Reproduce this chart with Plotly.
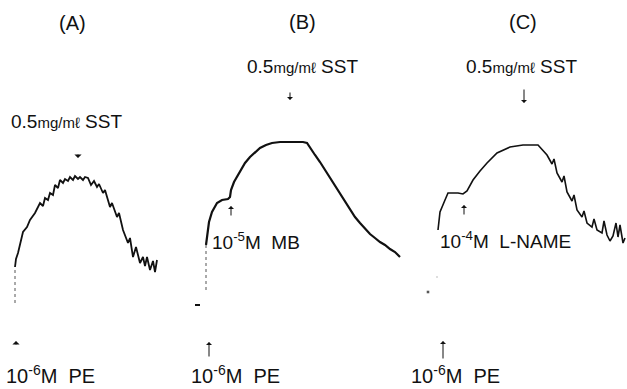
import plotly.graph_objects as go

# ---- Data: tension recordings (time in min from PE addition, tension in g) ----
# Panel A
pe_jump_time_a = [0.0, 0.0]
pe_jump_tension_a = [0.0, 0.36]
time_a = [0.0, 0.1, 0.3, 0.8, 1.2, 1.5, 2.0, 2.5, 2.8, 3.0, 3.3, 3.5, 3.8, 4.0, 4.3, 4.5, 4.8, 5.0, 5.3, 5.5,
          5.8, 6.0, 6.3, 6.5, 6.8, 7.0, 7.3, 7.6, 7.9, 8.2, 8.4, 8.8, 9.0, 9.5, 9.7, 10.2, 10.4, 10.8,
          11.3, 11.5, 11.8, 12.1, 12.5, 12.8, 13.0, 13.2, 13.5, 13.8, 14.0, 14.2]
tension_a = [0.36, 0.44, 0.50, 0.71, 0.76, 0.83, 0.90, 1.00, 0.97, 1.05, 1.03, 1.10, 1.08, 1.18, 1.15, 1.23, 1.20, 1.24, 1.22, 1.26,
             1.23, 1.27, 1.24, 1.26, 1.23, 1.26, 1.25, 1.18, 1.22, 1.16, 1.19, 1.10, 1.13, 0.96, 1.00, 0.86, 0.90, 0.73,
             0.60, 0.65, 0.46, 0.56, 0.40, 0.46, 0.37, 0.46, 0.33, 0.42, 0.31, 0.43]

# Panel B
base_time_b = [-1.1, -0.6]
base_tension_b = [-0.02, -0.02]
pe_jump_time_b = [0.0, 0.0]
pe_jump_tension_b = [0.13, 0.58]
time_b = [0.0, 0.1, 0.3, 0.6, 1.1, 1.6, 2.2, 2.4, 2.5, 2.8, 3.4, 3.9, 4.4, 4.9, 5.4, 6.0, 6.6, 7.4,
          8.6, 9.7, 10.1, 10.4, 10.9, 11.4, 11.9, 12.4, 12.9, 13.4, 13.9, 14.4, 14.9, 15.4, 15.9,
          16.4, 16.9, 17.4, 17.9, 18.4, 18.9, 19.4]
tension_b = [0.58, 0.68, 0.81, 0.91, 1.00, 1.03, 1.04, 1.06, 1.13, 1.21, 1.32, 1.40, 1.46, 1.51, 1.55, 1.58, 1.60, 1.61,
             1.61, 1.61, 1.60, 1.55, 1.48, 1.41, 1.33, 1.25, 1.17, 1.09, 1.01, 0.93, 0.86, 0.80, 0.74,
             0.69, 0.65, 0.61, 0.58, 0.54, 0.51, 0.46]

# Panel C
base_time_c = [-1.0, -0.1]
base_tension_c = [0.11, 0.26]
time_c = [0.0, 0.2, 0.7, 1.0, 2.0, 2.5, 2.9, 3.5, 4.2, 4.9, 5.9, 7.2, 8.5, 10.0, 10.9, 11.4, 11.6, 11.9,
          12.4, 12.6, 12.9, 13.4, 13.6, 13.9, 14.4, 14.6, 14.9, 15.4, 15.6, 15.9, 16.4, 16.6, 16.9,
          17.2, 17.5, 17.8, 18.0, 18.2, 18.5, 18.7]
tension_c = [0.73, 0.91, 1.03, 1.10, 1.10, 1.09, 1.12, 1.23, 1.32, 1.40, 1.50, 1.56, 1.58, 1.58, 1.48, 1.39, 1.44, 1.30,
             1.21, 1.27, 1.11, 1.02, 1.08, 0.93, 0.86, 0.92, 0.80, 0.76, 0.84, 0.73, 0.70, 0.82, 0.68,
             0.62, 0.67, 0.80, 0.66, 0.78, 0.60, 0.65]

panel_labels = ["(A)", "(B)", "(C)"]
sst_label = "0.5<span style='font-size:15px'>mg/mℓ</span> SST"
pe_label = "10<sup>-6</sup>M  PE"
mb_label = "10<sup>-5</sup>M  MB"
lname_label = "10<sup>-4</sup>M  L-NAME"

FONT = "Liberation Sans, Arial, sans-serif"
INK = "#111111"

fig = go.Figure()

def line(x, y, xa, width=1.8, dash="solid", color=INK):
    fig.add_trace(go.Scatter(x=x, y=y, xaxis=xa, yaxis="y", mode="lines",
                             line=dict(color=color, width=width, dash=dash),
                             showlegend=False, hoverinfo="skip"))

# Panel A
line(pe_jump_time_a, pe_jump_tension_a, "x", width=1, dash="dot", color="#555")
line(time_a, tension_a, "x", width=1.8)
# Panel B
line(base_time_b, base_tension_b, "x2", width=2)
line(pe_jump_time_b, pe_jump_tension_b, "x2", width=1, dash="dot", color="#555")
line(time_b, tension_b, "x2", width=2.2)
# Panel C
fig.add_trace(go.Scatter(x=base_time_c, y=base_tension_c, xaxis="x3", yaxis="y", mode="markers",
                         marker=dict(color=INK, size=[4, 2]), showlegend=False, hoverinfo="skip"))
line(time_c, tension_c, "x3", width=1.6)

ax_common = dict(visible=False, showgrid=False, zeroline=False, domain=[0, 1])
fig.update_layout(
    width=627, height=389,
    margin=dict(l=0, r=0, t=0, b=0),
    paper_bgcolor="white", plot_bgcolor="white",
    font=dict(family=FONT, color=INK),
    xaxis=dict(range=[-1.5, 61.2], **ax_common),
    xaxis2=dict(range=[-20.6, 42.1], overlaying="x", **ax_common),
    xaxis3=dict(range=[-43.8, 18.9], overlaying="x", **ax_common),
    yaxis=dict(range=[-0.86, 3.03], visible=False, showgrid=False, zeroline=False),
)

def text(xref, x, y, s, size, yanchor="middle"):
    fig.add_annotation(xref=xref, yref="y", x=x, y=y, text=s, showarrow=False,
                       font=dict(size=size, family=FONT, color=INK), xanchor="center", yanchor=yanchor)

def arrow(xref, x, y, ay, head=1, width=1.0, size=1.0):
    fig.add_annotation(xref=xref, yref="y", x=x, y=y, text="", showarrow=True,
                       ax=0, ay=ay, arrowhead=head, arrowwidth=width, arrowsize=size,
                       arrowcolor=INK)

# Panel titles
text("x", 5.7, 2.80, panel_labels[0], 20)
text("x2", 9.6, 2.81, panel_labels[1], 20)
text("x3", 8.5, 2.81, panel_labels[2], 20)

# SST labels and arrows
text("x", 5.1, 1.82, sst_label, 19)
arrow("x", 6.3, 1.45, -5, head=1, size=1.2)
text("x2", 9.6, 2.37, sst_label, 19)
arrow("x2", 8.4, 2.03, -9, head=1, size=1.0)
text("x3", 8.3, 2.37, sst_label, 19)
arrow("x3", 8.6, 2.00, -15, head=1, size=1.0)

# MB and L-NAME
text("x2", 5.0, 0.62, mb_label, 19)
arrow("x2", 2.5, 0.97, 11, head=1)
text("x3", 6.7, 0.63, lname_label, 19)
arrow("x3", 2.6, 0.98, 11, head=1)

# PE labels and arrows
text("x", 3.5, -0.855, pe_label, 20, yanchor="bottom")
arrow("x", 0.1, -0.38, 5, head=1, size=1.2)
text("x2", 2.9, -0.855, pe_label, 20, yanchor="bottom")
arrow("x2", 0.3, -0.39, 16, head=1)
text("x3", 1.7, -0.855, pe_label, 20, yanchor="bottom")
arrow("x3", 0.5, -0.38, 19, head=1)

fig.write_html("out.html", config={"displayModeBar": False},
               post_script="document.body.style.margin='0';document.body.style.overflow='hidden';")
